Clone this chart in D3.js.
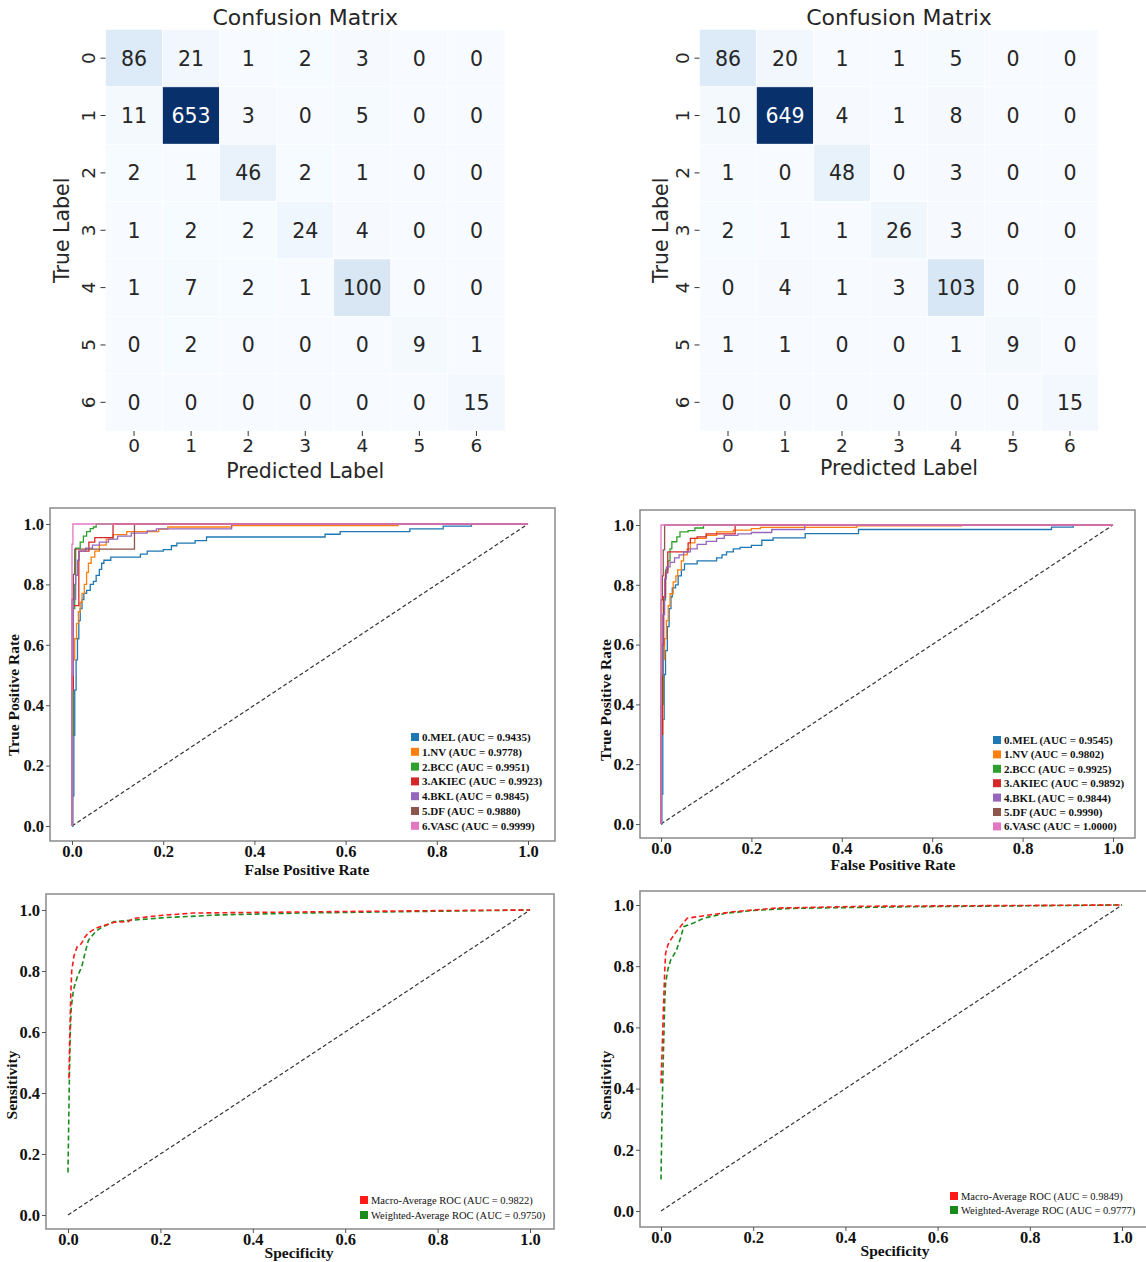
<!DOCTYPE html>
<html>
<head>
<meta charset="utf-8">
<script src="https://cdn.jsdelivr.net/npm/d3@7"></script>
<style>
  html, body { margin: 0; padding: 0; background: #fff; }
  svg { display: block; }
</style>
</head>
<body>
<svg id="chart" width="1146" height="1262"></svg>
<script>
// ---- Confusion matrices ----
const cmLabels = ["0", "1", "2", "3", "4", "5", "6"];
const cmLeft = [
  [86, 21, 1, 2, 3, 0, 0],
  [11, 653, 3, 0, 5, 0, 0],
  [2, 1, 46, 2, 1, 0, 0],
  [1, 2, 2, 24, 4, 0, 0],
  [1, 7, 2, 1, 100, 0, 0],
  [0, 2, 0, 0, 0, 9, 1],
  [0, 0, 0, 0, 0, 0, 15]
];
const cmRight = [
  [86, 20, 1, 1, 5, 0, 0],
  [10, 649, 4, 1, 8, 0, 0],
  [1, 0, 48, 0, 3, 0, 0],
  [2, 1, 1, 26, 3, 0, 0],
  [0, 4, 1, 3, 103, 0, 0],
  [1, 1, 0, 0, 1, 9, 0],
  [0, 0, 0, 0, 0, 0, 15]
];

// ---- Per-class ROC curves ----
const classNames = ["0.MEL", "1.NV", "2.BCC", "3.AKIEC", "4.BKL", "5.DF", "6.VASC"];
const aucLeft = ["0.9435", "0.9778", "0.9951", "0.9923", "0.9845", "0.9880", "0.9999"];
const aucRight = ["0.9545", "0.9802", "0.9925", "0.9892", "0.9844", "0.9990", "1.0000"];
const rocTicks = [0, 0.2, 0.4, 0.6, 0.8, 1.0];

// [fpr, tpr] pairs: tpr rises to the given value at the given fpr
const melLeft = [[0,0],[0.002,0.1],[0.004,0.3],[0.006,0.45],[0.009,0.55],[0.012,0.62],[0.015,0.68],[0.018,0.72],[0.022,0.75],[0.026,0.77],[0.032,0.78],[0.04,0.8],[0.047,0.81],[0.053,0.83],[0.06,0.85],[0.065,0.87],[0.07,0.88],[0.085,0.89],[0.15,0.9],[0.165,0.91],[0.2,0.915],[0.218,0.928],[0.23,0.937],[0.27,0.945],[0.295,0.957],[0.555,0.966],[0.588,0.975],[0.741,0.984],[0.814,0.993],[0.876,1],[1,1]];
const nvLeft = [[0,0],[0,0.3],[0.003,0.55],[0.006,0.62],[0.01,0.67],[0.014,0.71],[0.018,0.74],[0.022,0.77],[0.027,0.8],[0.032,0.84],[0.036,0.87],[0.042,0.89],[0.05,0.91],[0.06,0.93],[0.075,0.95],[0.09,0.965],[0.12,0.975],[0.19,0.983],[0.21,0.99],[0.35,0.995],[0.715,1],[1,1]];
const bccLeft = [[0,0],[0,0.3],[0.003,0.72],[0.006,0.8],[0.008,0.92],[0.018,0.94],[0.025,0.96],[0.032,0.975],[0.04,0.985],[0.047,0.99],[0.053,1],[1,1]];
const akiecLeft = [[0,0],[0,0.45],[0.003,0.73],[0.015,0.91],[0.035,0.91],[0.037,0.94],[0.05,0.955],[0.09,1],[1,1]];
const bklLeft = [[0,0],[0,0.5],[0.003,0.75],[0.008,0.83],[0.012,0.88],[0.016,0.91],[0.03,0.92],[0.045,0.93],[0.06,0.94],[0.08,0.95],[0.1,0.96],[0.13,0.97],[0.165,0.977],[0.185,0.984],[0.35,1],[1,1]];
const dfLeft = [[0,0],[0,0.75],[0.003,0.833],[0.006,0.917],[0.137,1],[1,1]];
const vascLeft = [[0,0],[0,0.933],[0.002,1],[1,1]];

const melRight = [[0,0],[0.002,0.1],[0.004,0.35],[0.007,0.5],[0.01,0.58],[0.014,0.66],[0.018,0.72],[0.022,0.76],[0.025,0.79],[0.032,0.8],[0.038,0.83],[0.045,0.85],[0.052,0.87],[0.08,0.88],[0.123,0.89],[0.135,0.9],[0.145,0.91],[0.16,0.92],[0.175,0.925],[0.2,0.932],[0.223,0.949],[0.248,0.957],[0.319,0.971],[0.437,0.985],[0.864,0.993],[0.912,1],[1,1]];
const nvRight = [[0,0],[0,0.3],[0.004,0.55],[0.008,0.62],[0.012,0.68],[0.016,0.73],[0.02,0.77],[0.027,0.81],[0.033,0.83],[0.037,0.85],[0.045,0.88],[0.05,0.9],[0.058,0.92],[0.065,0.94],[0.075,0.955],[0.1,0.965],[0.123,0.977],[0.16,0.983],[0.2,0.988],[0.22,0.992],[0.433,0.997],[0.665,1],[1,1]];
const bccRight = [[0,0],[0,0.4],[0.005,0.75],[0.01,0.85],[0.015,0.88],[0.02,0.92],[0.024,0.944],[0.035,0.96],[0.042,0.977],[0.06,0.981],[0.075,0.99],[0.094,1],[1,1]];
const akiecRight = [[0,0],[0,0.3],[0.003,0.6],[0.006,0.76],[0.01,0.84],[0.015,0.91],[0.06,0.94],[0.065,0.955],[0.08,0.96],[0.1,0.97],[0.164,1],[1,1]];
const bklRight = [[0,0],[0,0.5],[0.004,0.7],[0.008,0.82],[0.012,0.86],[0.02,0.875],[0.03,0.89],[0.04,0.9],[0.05,0.91],[0.065,0.92],[0.08,0.935],[0.1,0.945],[0.123,0.955],[0.14,0.965],[0.17,0.97],[0.2,0.975],[0.245,0.985],[0.318,1],[1,1]];
const dfRight = [[0,0],[0,0.75],[0.003,0.83],[0.005,0.917],[0.008,1],[1,1]];
const vascRight = [[0,0],[0,1],[1,1]];

// ---- Averaged ROC curves ----
const avgNames = ["Macro-Average ROC", "Weighted-Average ROC"];
const avgAucLeft = ["0.9822", "0.9750"];
const avgAucRight = ["0.9849", "0.9777"];
const macroLeft = [[0.002,0.448],[0.004,0.6],[0.006,0.72],[0.008,0.8],[0.013,0.85],[0.02,0.88],[0.029,0.89],[0.036,0.91],[0.044,0.925],[0.06,0.94],[0.075,0.948],[0.1,0.96],[0.13,0.962],[0.14,0.972],[0.2,0.982],[0.27,0.99],[0.4,0.992],[0.6,0.995],[0.8,0.998],[1,1]];
const weightedLeft = [[0,0.139],[0.003,0.45],[0.005,0.6],[0.007,0.68],[0.012,0.74],[0.02,0.78],[0.03,0.815],[0.037,0.86],[0.044,0.9],[0.06,0.93],[0.075,0.945],[0.1,0.962],[0.15,0.968],[0.21,0.975],[0.33,0.984],[0.5,0.99],[0.8,0.996],[1,1]];
const macroRight = [[0,0.417],[0.003,0.55],[0.005,0.65],[0.008,0.78],[0.01,0.842],[0.015,0.87],[0.021,0.886],[0.033,0.913],[0.045,0.935],[0.057,0.957],[0.108,0.968],[0.156,0.978],[0.25,0.99],[0.45,0.996],[1,1]];
const weightedRight = [[0,0.103],[0.002,0.3],[0.005,0.5],[0.008,0.68],[0.01,0.744],[0.015,0.79],[0.021,0.82],[0.033,0.85],[0.042,0.89],[0.049,0.929],[0.069,0.94],[0.093,0.957],[0.14,0.973],[0.2,0.982],[0.28,0.989],[0.52,0.994],[1,1]];

const classColors = ["#1f77b4", "#ff7f0e", "#2ca02c", "#d62728", "#9467bd", "#8c564b", "#e377c2"];
const avgColors = ["#ff1a1a", "#1a8a1a"];

const svg = d3.select("#chart");
const sans = "'DejaVu Sans', sans-serif";
const serif = "'Liberation Serif', 'DejaVu Serif', serif";

// ---------- Confusion matrix heatmap ----------
function heatmap(data, opt) {
  const g = svg.append("g");
  const x = d3.scaleBand().domain(cmLabels).range([opt.x0, opt.x1]);
  const y = d3.scaleBand().domain(cmLabels).range([opt.y0, opt.y1]);
  const vmax = d3.max(data.flat());
  const color = d3.scaleSequential(d3.interpolateBlues).domain([0, vmax]);

  const cells = [];
  data.forEach((row, i) => row.forEach((v, j) => cells.push({ r: cmLabels[i], c: cmLabels[j], v })));

  g.selectAll("rect.cell").data(cells).join("rect")
    .attr("class", "cell")
    .attr("x", d => x(d.c)).attr("y", d => y(d.r))
    .attr("width", x.bandwidth()).attr("height", y.bandwidth())
    .attr("fill", d => color(d.v))
    .attr("stroke", "#ffffff").attr("stroke-width", 0.6);

  const lum = c => {
    const rgb = d3.rgb(c);
    const f = u => { u /= 255; return u <= 0.03928 ? u / 12.92 : Math.pow((u + 0.055) / 1.055, 2.4); };
    return 0.2126 * f(rgb.r) + 0.7152 * f(rgb.g) + 0.0722 * f(rgb.b);
  };

  g.selectAll("text.ann").data(cells).join("text")
    .attr("class", "ann")
    .attr("x", d => x(d.c) + x.bandwidth() / 2)
    .attr("y", d => y(d.r) + y.bandwidth() / 2)
    .attr("dy", "0.36em")
    .attr("text-anchor", "middle")
    .attr("font-family", sans).attr("font-size", 20.5)
    .attr("fill", d => lum(color(d.v)) > 0.408 ? "#262626" : "#ffffff")
    .text(d => d.v);

  // x axis
  const xa = g.append("g").attr("transform", `translate(0,${opt.y1})`)
    .call(d3.axisBottom(x).tickSize(5).tickPadding(3));
  xa.select(".domain").remove();
  xa.selectAll("line").attr("stroke", "#333").attr("stroke-width", 1);
  xa.selectAll("text").attr("font-family", sans).attr("font-size", 18.5).attr("fill", "#262626");

  // y axis with rotated labels
  const ya = g.append("g").attr("transform", `translate(${opt.x0},0)`)
    .call(d3.axisLeft(y).tickSize(5).tickPadding(0));
  ya.select(".domain").remove();
  ya.selectAll("line").attr("stroke", "#333").attr("stroke-width", 1);
  ya.selectAll("text")
    .attr("font-family", sans).attr("font-size", 18.5).attr("fill", "#262626")
    .attr("text-anchor", "middle").attr("dy", null)
    .attr("x", 0).attr("y", 0)
    .attr("transform", "translate(-17,0) rotate(-90)")
    .attr("dominant-baseline", "central");

  g.append("text")
    .attr("x", (opt.x0 + opt.x1) / 2).attr("y", opt.titleY)
    .attr("text-anchor", "middle")
    .attr("font-family", sans).attr("font-size", 22).attr("fill", "#262626")
    .text("Confusion Matrix");
  g.append("text")
    .attr("x", (opt.x0 + opt.x1) / 2).attr("y", opt.xlabY)
    .attr("text-anchor", "middle")
    .attr("font-family", sans).attr("font-size", 20.5).attr("fill", "#262626")
    .text("Predicted Label");
  g.append("text")
    .attr("transform", `translate(${opt.ylabX},${(opt.y0 + opt.y1) / 2}) rotate(-90)`)
    .attr("text-anchor", "middle").attr("dominant-baseline", "central")
    .attr("font-family", sans).attr("font-size", 20.5).attr("fill", "#262626")
    .text("True Label");
}

heatmap(cmLeft, { x0: 105.5, x1: 505, y0: 29.5, y1: 431, titleY: 25, xlabY: 478, ylabX: 62 });
heatmap(cmRight, { x0: 699.5, x1: 1098.5, y0: 29.5, y1: 431, titleY: 25, xlabY: 475, ylabX: 661 });

// ---------- ROC panel ----------
function rocPanel(opt) {
  const g = svg.append("g");
  const x = d3.scaleLinear().domain([0, 1]).range([opt.px0, opt.px1]);
  const y = d3.scaleLinear().domain([0, 1]).range([opt.py0, opt.py1]);

  g.append("rect")
    .attr("x", opt.frame[0]).attr("y", opt.frame[1])
    .attr("width", opt.frame[2] - opt.frame[0]).attr("height", opt.frame[3] - opt.frame[1])
    .attr("fill", "none").attr("stroke", "#8a8a8a").attr("stroke-width", 1.5);

  const xa = g.append("g").attr("transform", `translate(0,${opt.frame[3]})`)
    .call(d3.axisBottom(x).tickValues(rocTicks).tickFormat(d3.format(".1f")).tickSize(4).tickPadding(0));
  xa.select(".domain").remove();
  xa.selectAll("line").attr("stroke", "#555");
  xa.selectAll("text").attr("font-family", serif).attr("font-weight", "bold")
    .attr("font-size", 16.5).attr("fill", "#111");

  const ya = g.append("g").attr("transform", `translate(${opt.frame[0]},0)`)
    .call(d3.axisLeft(y).tickValues(rocTicks).tickFormat(d3.format(".1f")).tickSize(4).tickPadding(2));
  ya.select(".domain").remove();
  ya.selectAll("line").attr("stroke", "#555");
  ya.selectAll("text").attr("font-family", serif).attr("font-weight", "bold")
    .attr("font-size", 16.5).attr("fill", "#111");

  // chance diagonal
  g.append("path")
    .attr("d", d3.line().x(d => x(d[0])).y(d => y(d[1]))([[0, 0], [1, 1]]))
    .attr("fill", "none").attr("stroke", "#333").attr("stroke-width", 1.2)
    .attr("stroke-dasharray", "4,2.5");

  opt.series.forEach(s => {
    g.append("path")
      .attr("d", d3.line().x(d => x(d[0])).y(d => y(d[1])).curve(s.curve)(s.points))
      .attr("fill", "none").attr("stroke", s.color)
      .attr("stroke-width", s.width)
      .attr("stroke-dasharray", s.dash || null);
  });

  g.append("text")
    .attr("x", opt.xlab[0]).attr("y", opt.xlab[1])
    .attr("text-anchor", "middle").attr("dominant-baseline", "central")
    .attr("font-family", serif).attr("font-weight", "bold").attr("font-size", 15.5).attr("fill", "#111")
    .text(opt.xTitle);
  g.append("text")
    .attr("transform", `translate(${opt.ylab[0]},${opt.ylab[1]}) rotate(-90)`)
    .attr("text-anchor", "middle").attr("dominant-baseline", "central")
    .attr("font-family", serif).attr("font-weight", "bold").attr("font-size", 15.5).attr("fill", "#111")
    .text(opt.yTitle);

  const lg = g.append("g");
  opt.legend.items.forEach((it, i) => {
    const cy = opt.legend.y + i * opt.legend.step;
    lg.append("rect")
      .attr("x", opt.legend.x).attr("y", cy - 4)
      .attr("width", 8).attr("height", 8).attr("fill", it.color);
    lg.append("text")
      .attr("x", opt.legend.x + 11).attr("y", cy)
      .attr("dominant-baseline", "central")
      .attr("font-family", serif).attr("font-weight", opt.legend.weight)
      .attr("font-size", opt.legend.size).attr("fill", "#111")
      .text(it.label);
  });
}

const leftCurves = [melLeft, nvLeft, bccLeft, akiecLeft, bklLeft, dfLeft, vascLeft];
const rightCurves = [melRight, nvRight, bccRight, akiecRight, bklRight, dfRight, vascRight];

rocPanel({
  frame: [50, 508, 555, 841], px0: 72, px1: 528, py0: 826, py1: 524,
  xTitle: "False Positive Rate", yTitle: "True Positive Rate",
  xlab: [307, 869], ylab: [13, 695],
  series: leftCurves.map((p, i) => ({ points: p, color: classColors[i], width: 1.3, curve: d3.curveStepAfter })),
  legend: { x: 411, y: 737, step: 14.8, size: 11, weight: "bold",
    items: classNames.map((n, i) => ({ color: classColors[i], label: `${n} (AUC = ${aucLeft[i]})` })) }
});

rocPanel({
  frame: [640, 510, 1135, 838], px0: 661, px1: 1113, py0: 824, py1: 525,
  xTitle: "False Positive Rate", yTitle: "True Positive Rate",
  xlab: [893, 864], ylab: [605, 700],
  series: rightCurves.map((p, i) => ({ points: p, color: classColors[i], width: 1.3, curve: d3.curveStepAfter })),
  legend: { x: 993, y: 740, step: 14.4, size: 11, weight: "bold",
    items: classNames.map((n, i) => ({ color: classColors[i], label: `${n} (AUC = ${aucRight[i]})` })) }
});

rocPanel({
  frame: [46, 894, 554, 1229], px0: 68, px1: 530, py0: 1215, py1: 910,
  xTitle: "Specificity", yTitle: "Sensitivity",
  xlab: [299, 1252], ylab: [11, 1085],
  series: [
    { points: weightedLeft, color: avgColors[1], width: 1.6, dash: "5,3", curve: d3.curveLinear },
    { points: macroLeft, color: avgColors[0], width: 1.6, dash: "5,3", curve: d3.curveLinear }
  ],
  legend: { x: 360, y: 1200, step: 15, size: 10.5, weight: "normal",
    items: avgNames.map((n, i) => ({ color: avgColors[i], label: `${n} (AUC = ${avgAucLeft[i]})` })) }
});

rocPanel({
  frame: [640, 891, 1150, 1227], px0: 661, px1: 1122, py0: 1211, py1: 905,
  xTitle: "Specificity", yTitle: "Sensitivity",
  xlab: [895, 1250], ylab: [605, 1085],
  series: [
    { points: weightedRight, color: avgColors[1], width: 1.6, dash: "5,3", curve: d3.curveLinear },
    { points: macroRight, color: avgColors[0], width: 1.6, dash: "5,3", curve: d3.curveLinear }
  ],
  legend: { x: 950, y: 1196, step: 14, size: 10.5, weight: "normal",
    items: avgNames.map((n, i) => ({ color: avgColors[i], label: `${n} (AUC = ${avgAucRight[i]})` })) }
});
</script>
</body>
</html>
